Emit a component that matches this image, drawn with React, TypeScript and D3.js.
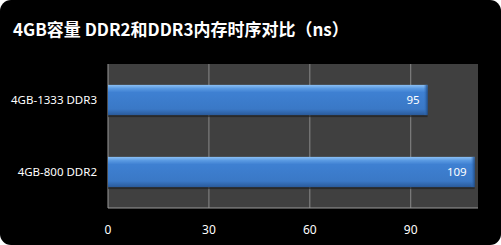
import React from "react";
import * as d3 from "d3";

const categories = ["4GB-1333 DDR3", "4GB-800 DDR2"];
const values = [95, 109];
const tickValues = [0, 30, 60, 90];
const title = "4GB容量 DDR2和DDR3内存时序对比（ns）";

const W = 501;
const H = 245;
const plot = { left: 108, right: 478, top: 64, bottom: 208 };

export default function App() {
  const x = d3.scaleLinear().domain([0, 110]).range([plot.left, plot.right]);
  const y = d3
    .scaleBand<string>()
    .domain(categories)
    .range([plot.top, plot.bottom])
    .paddingInner(0.58)
    .paddingOuter(0.29);

  const font = "'Noto Sans', 'Noto Sans CJK SC', sans-serif";

  return (
    <svg
      width={W}
      height={H}
      style={{ position: "absolute", left: 0, top: 0, background: "#fff" }}
    >
      <defs>
        <linearGradient id="barGrad" x1="0" y1="0" x2="0" y2="1">
          <stop offset="0" stopColor="#8cc0f4" />
          <stop offset="0.12" stopColor="#5a9ae2" />
          <stop offset="0.25" stopColor="#3e80d2" />
          <stop offset="0.8" stopColor="#3a78c6" />
          <stop offset="1" stopColor="#2a5a9a" />
        </linearGradient>
        <linearGradient id="capGrad" x1="0" y1="0" x2="1" y2="0">
          <stop offset="0" stopColor="#3a78c6" stopOpacity="0" />
          <stop offset="1" stopColor="#1f4d88" />
        </linearGradient>
      </defs>
      <rect x={0} y={0} width={W} height={H} rx={11} ry={11} fill="#000" />

      <text
        x={13}
        y={36}
        fill="#fff"
        fontFamily="'Noto Sans CJK SC', sans-serif"
        fontWeight="bold"
        fontSize={17}
      >
        {title}
      </text>

      <rect
        x={plot.left}
        y={plot.top}
        width={plot.right - plot.left}
        height={plot.bottom - plot.top}
        fill="#404040"
      />

      {tickValues.slice(1).map((t) => (
        <line
          key={t}
          x1={x(t)}
          x2={x(t)}
          y1={plot.top}
          y2={plot.bottom}
          stroke="#8a8a8a"
          strokeWidth={1}
        />
      ))}
      <line x1={plot.left} x2={plot.left} y1={plot.top} y2={plot.bottom} stroke="#9a9a9a" />
      <line x1={plot.left} x2={plot.right} y1={plot.bottom} y2={plot.bottom} stroke="#9a9a9a" />

      {categories.map((c, i) => {
        const y0 = y(c)!;
        const bh = y.bandwidth();
        const x1 = x(values[i]);
        return (
          <g key={c}>
            <rect x={x(0)} y={y0 + 2} width={x1 - x(0)} height={bh} fill="#1a1a1a" opacity={0.6} />
            <rect x={x(0)} y={y0} width={x1 - x(0)} height={bh} fill="url(#barGrad)" />
            <rect x={x1 - 4} y={y0} width={4} height={bh} fill="url(#capGrad)" />
            <text
              x={x1 - 8}
              y={y0 + bh / 2}
              dy="0.35em"
              textAnchor="end"
              fill="#fff"
              fontFamily={font}
              fontSize={11.5}
            >
              {values[i]}
            </text>
            <text
              x={97}
              y={y0 + bh / 2}
              dy="0.35em"
              textAnchor="end"
              fill="#fff"
              fontFamily={font}
              fontSize={11.5}
            >
              {c}
            </text>
          </g>
        );
      })}

      {tickValues.map((t) => (
        <text
          key={t}
          x={x(t)}
          y={230}
          dy="0.35em"
          textAnchor="middle"
          fill="#fff"
          fontFamily={font}
          fontSize={12}
        >
          {t}
        </text>
      ))}
    </svg>
  );
}
